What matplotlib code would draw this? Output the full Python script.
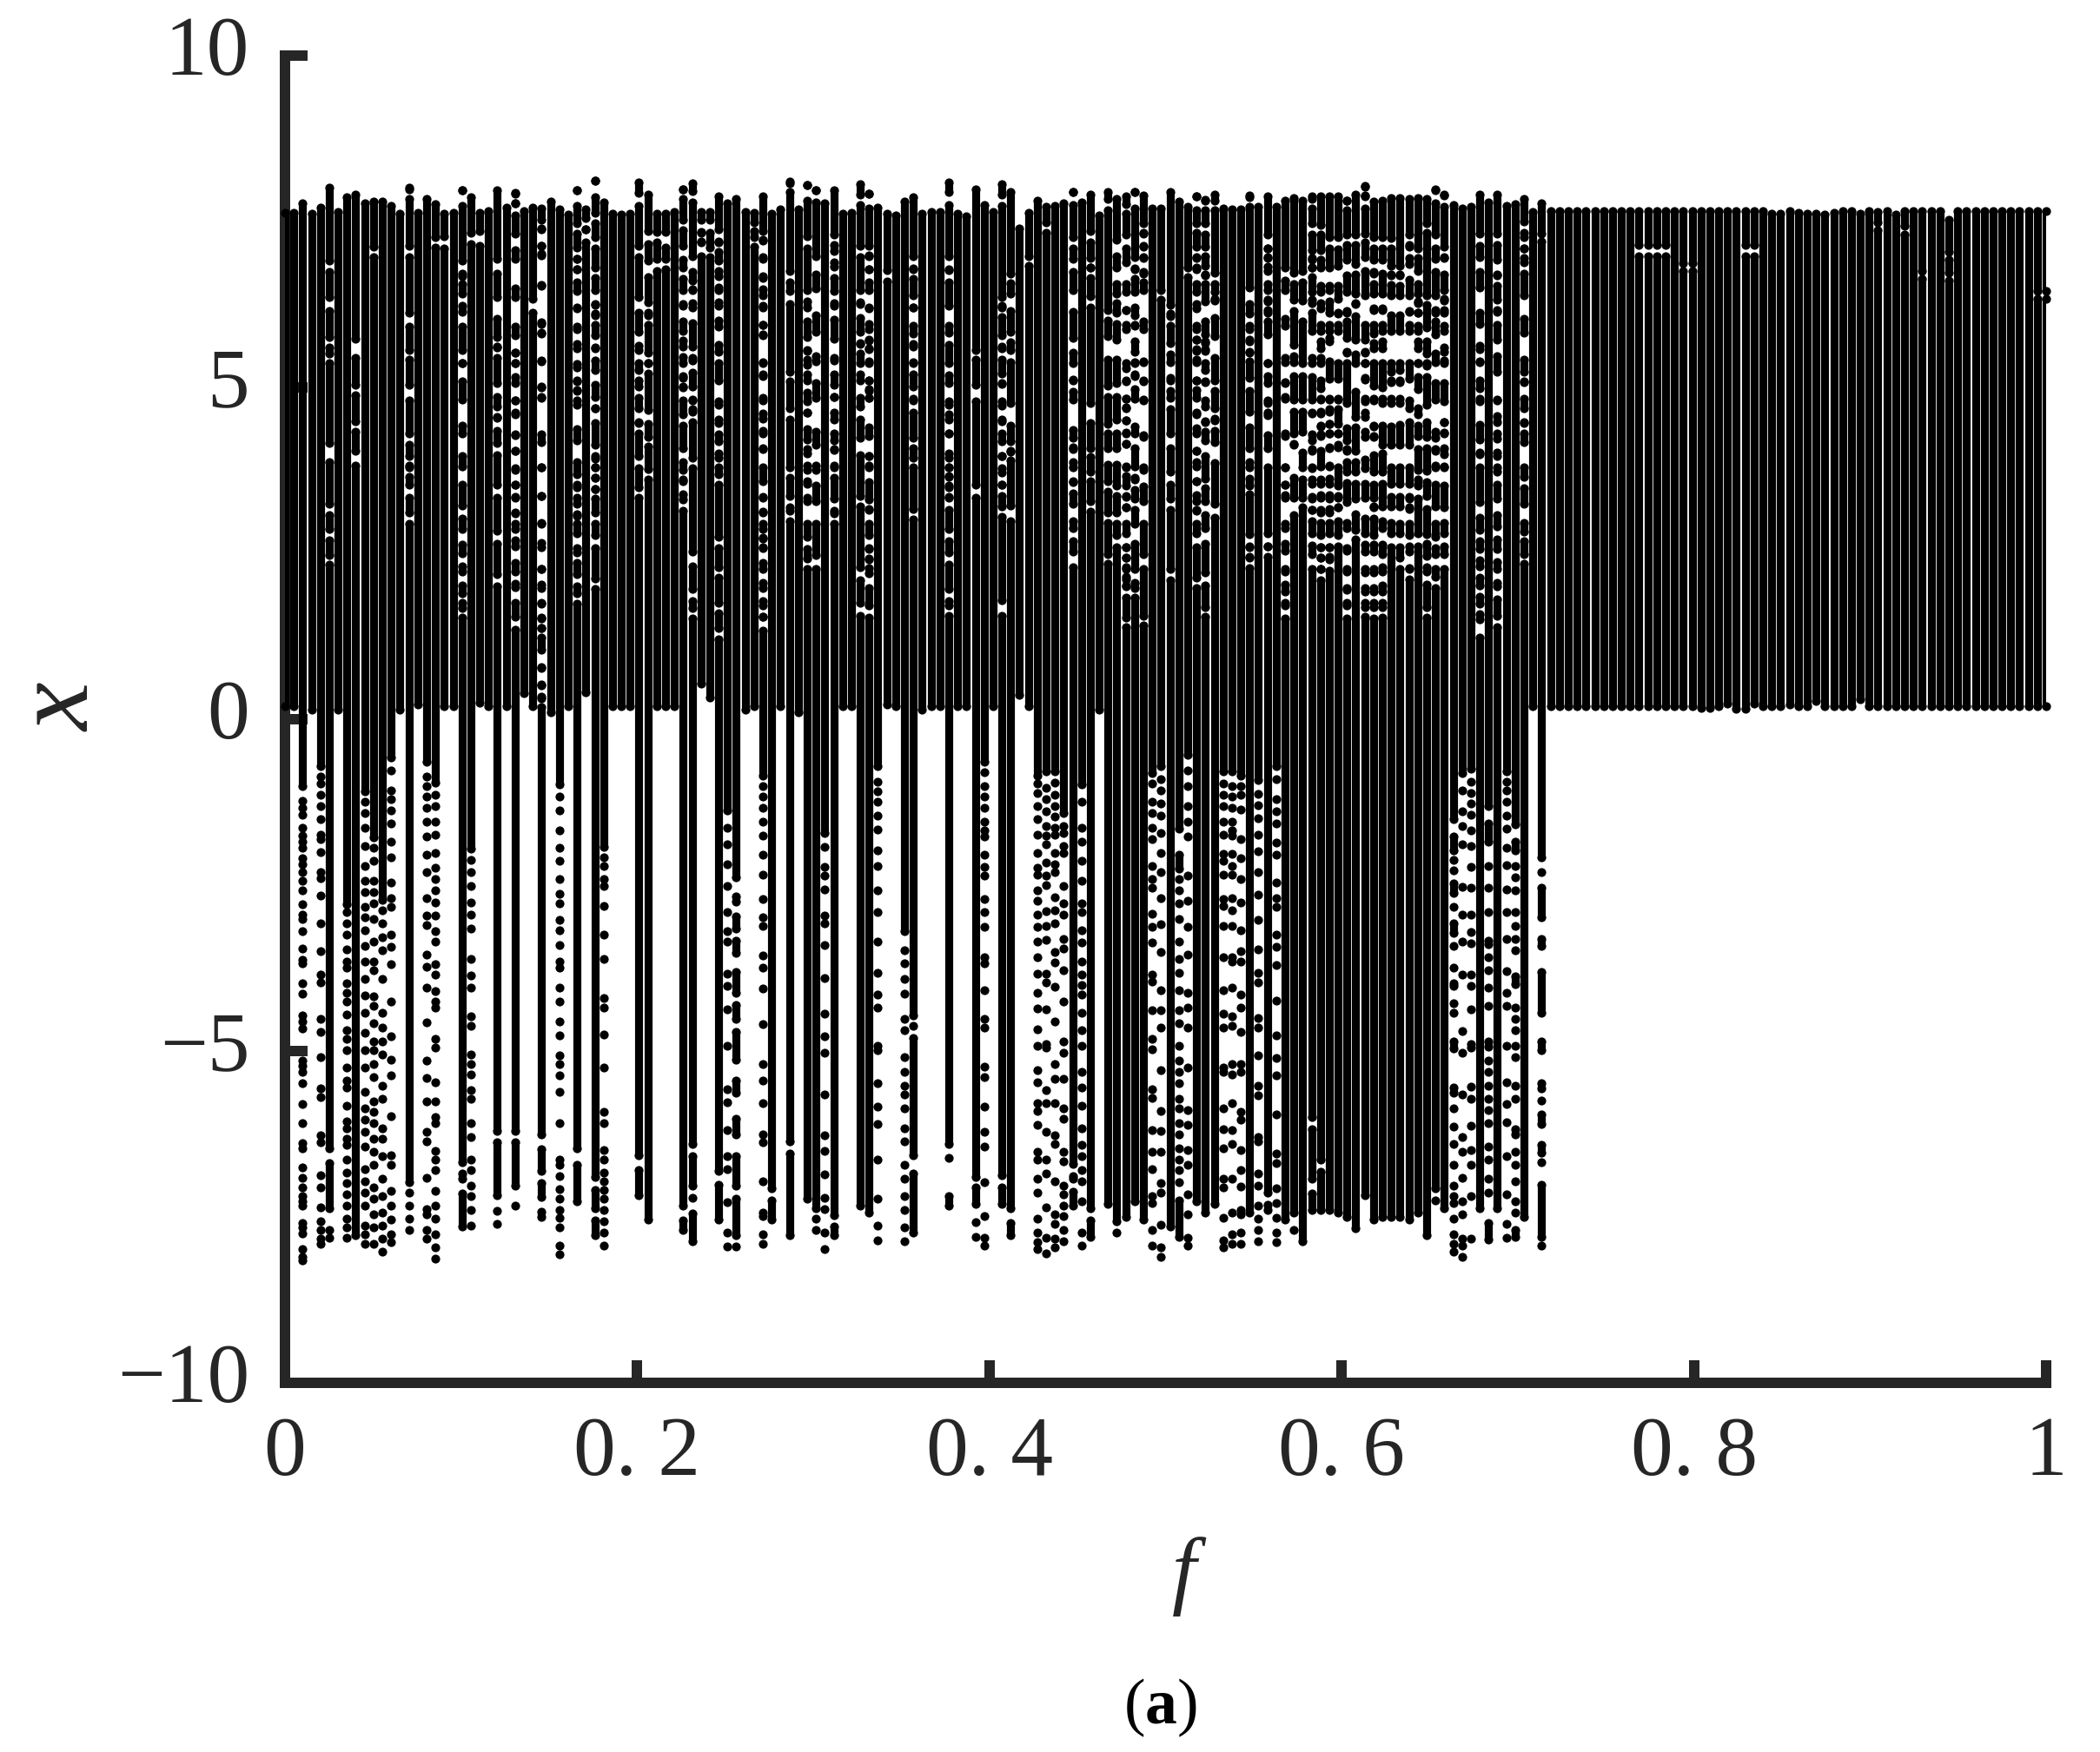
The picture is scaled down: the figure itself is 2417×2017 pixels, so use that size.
#!/usr/bin/env python3
# bifurcation diagram of x against f
import numpy as np
import matplotlib
matplotlib.use("Agg")
import matplotlib.pyplot as plt
from matplotlib.transforms import ScaledTranslation

# sweep of the forcing parameter, one column of points per value
f_grid = np.linspace(0, 1, 200)

# upper and lower end of the main band of each column
top_x = [7.63,7.63,7.78,7.62,7.71,8.01,7.65,7.87,7.90,7.78,7.80,7.80,7.73,7.62,8.01,7.63,7.84,7.76,7.62,7.63,
         7.97,7.87,7.63,7.66,7.97,7.71,7.92,7.66,7.71,7.69,7.80,7.68,7.60,7.97,7.68,8.11,7.79,7.62,7.60,7.62,
         8.09,7.90,7.62,7.62,7.65,7.99,8.07,7.65,7.65,7.88,7.77,7.84,7.65,7.63,7.88,7.62,7.68,8.08,7.68,8.05,
         7.97,7.77,7.97,7.62,7.63,8.06,7.92,7.71,7.62,7.59,7.80,7.87,7.62,7.65,7.65,8.09,7.62,7.58,7.99,7.75,
         7.65,8.06,7.94,7.40,7.63,7.81,7.72,7.73,7.78,7.95,7.79,7.91,7.59,7.95,7.84,7.88,7.94,7.89,7.69,7.69,
         7.94,7.80,7.72,7.88,7.83,7.91,7.69,7.68,7.68,7.86,7.72,7.88,7.72,7.81,7.85,7.81,7.88,7.88,7.88,7.88,
         7.82,7.90,8.04,7.80,7.82,7.85,7.85,7.84,7.85,7.84,7.99,7.91,7.75,7.69,7.72,7.91,7.79,7.91,7.74,7.76,
         7.84,7.64,7.78,7.66,7.66,7.66,7.66,7.66,7.66,7.66,7.66,7.66,7.66,7.66,7.66,7.66,7.66,7.66,7.66,7.66,
         7.66,7.66,7.66,7.66,7.66,7.66,7.66,7.66,7.62,7.62,7.66,7.63,7.62,7.62,7.60,7.63,7.66,7.66,7.62,7.66,
         7.64,7.66,7.60,7.66,7.66,7.66,7.66,7.66,7.53,7.66,7.66,7.66,7.66,7.66,7.66,7.66,7.66,7.66,7.66,7.66]
bottom_x = [.2,.2,.2,.14,.2,.2,.14,.2,.2,.2,.2,.2,.2,.14,.2,.22,.2,.2,.19,.2,
            .2,.2,.25,.2,.2,.2,.2,.39,.2,.2,.11,.2,.2,.2,.40,.2,.2,.2,.2,.2,
            .2,.2,.2,.2,.2,.2,.2,.54,.33,.2,.2,.2,.14,.19,.2,.2,.19,.2,.11,.2,
            .2,.2,.2,.2,.2,.2,.2,.2,.22,.19,.2,.2,.14,.2,.2,.2,.2,.2,.2,.2,
            .2,.2,.2,.36,.2,.2,.2,.2,.2,.2,.2,.2,.15,.2,.2,.2,.2,.2,.2,.2,
            .2,.2,.2,.2,.2,.2,.2,.2,.2,.2,.2,.2,.2,.2,.2,.2,.2,.2,.2,.2,
            .2,.2,.2,.2,.2,.2,.2,.2,.2,.2,.2,.2,.2,.2,.2,.2,.2,.2,.2,.2,
            .2,.2,.2,.2,.2,.2,.2,.2,.2,.2,.2,.2,.2,.2,.2,.2,.2,.2,.2,.2,
            .17,.17,.2,.24,.16,.16,.24,.2,.2,.2,.22,.2,.2,.27,.2,.2,.2,.2,.3,.2,
            .2,.2,.2,.2,.2,.2,.2,.2,.2,.2,.2,.2,.2,.2,.2,.2,.2,.2,.2,.2]

# white bands inside the upper part: column -> (x above the band, x below it)
upper_gaps = {
    5: [(6.91,6.74),(6.36,6.15),(5.76,5.60),(5.51,5.36),(4.16,3.87),(3.25,3.07),(2.86,2.69),(2.48,2.33)],
    8: [(5.73,5.44),(5.04,4.88),(4.49,4.33),(4.05,3.82)],
    10: [(7.12,6.96)],
    14: [(7.99,7.84),(7.13,6.96),(6.12,5.91),(5.56,5.42),(5.04,4.81),(4.30,4.13),(3.97,3.82),(3.80,3.65),(3.53,3.34),(3.11,2.94)],
    17: [(7.27,7.11)],
    18: [(7.28,7.09)],
    20: [(7.97,7.73),(6.91,6.68),(6.72,6.56),(6.42,6.23),(6.14,5.91),(5.56,5.36),(5.37,5.09),(4.82,4.43),(4.30,3.96),(3.81,3.53),(3.22,3.02),(2.86,2.63),(2.50,2.30),(2.23,2.02),(1.90,1.75),(1.68,1.53)],
    21: [(7.33,7.16)],
    22: [(7.36,7.13)],
    24: [(6.94,6.71),(6.36,6.04),(5.76,5.60),(5.62,5.44),(5.07,4.85),(4.71,4.54),(4.55,4.34),(4.16,3.98),(3.53,3.34),(2.84,2.65),(2.18,2.00)],
    26: [(7.93,7.77),(7.77,7.59),(7.32,7.07),(6.94,6.49),(6.36,5.91),(5.79,5.52),(5.52,5.36),(5.36,5.16),(5.07,4.81),(4.81,4.62),(4.60,4.28),(4.29,4.04),(4.05,3.78),(3.76,3.54),(3.54,3.34),(3.35,3.10),(3.11,2.95),(2.86,2.69),(2.60,2.35),(2.23,2.04),(1.99,1.76),(1.54,1.35)],
    28: [(6.34,6.13)],
    29: [(7.52,7.38),(7.39,7.13),(7.13,6.99),(7.01,6.55),(6.53,5.96),(5.98,5.81),(5.82,5.39),(5.40,5.00),(5.01,4.84),(4.85,4.29),(4.18,3.79),(3.80,3.37),(3.36,2.95),(2.96,2.66),(2.59,2.26),(2.27,2.03),(1.98,1.74),(1.75,1.52),(1.53,1.37),(1.38,1.23),(1.05,.77),(.78,.51),(.52,.32),(.34,.18)],
    33: [(7.97,7.73),(7.47,7.32),(7.11,6.94),(6.94,6.78),(6.78,6.59),(6.45,6.19),(6.20,5.91),(5.88,5.66),(5.59,5.35),(5.30,5.09),(5.10,4.95),(4.96,4.81),(4.74,4.37),(4.20,3.87),(3.69,3.53),(3.50,3.34),(3.25,3.06),(3.09,2.94),(2.80,2.58),(2.51,2.35),(2.18,2.00),(1.90,1.74)],
    34: [(7.55,7.38),(7.38,7.18)],
    35: [(8.11,7.87),(7.63,7.48),(7.27,7.10),(6.80,6.65),(6.47,6.24),(6.25,6.11),(6.09,5.94),(5.79,5.60),(5.59,5.40),(5.26,5.04),(4.85,4.68),(4.68,4.46),(4.14,3.93),(3.96,3.80),(3.80,3.64),(3.64,3.47),(3.47,3.32),(3.11,2.95),(2.78,2.58),(2.12,1.96)],
    40: [(7.93,7.73),(7.13,6.96),(6.36,6.12),(5.84,5.63),(5.56,5.36),(5.26,5.11),(5.01,4.84),(4.68,4.48),(4.46,4.31),(3.97,3.78),(3.50,3.34)],
    41: [(7.36,7.16),(6.91,6.66),(6.28,6.12),(6.09,5.94),(5.52,5.36),(5.36,5.21),(4.66,4.45),(4.25,4.11),(3.77,3.61)],
    42: [(7.34,7.18),(6.94,6.76)],
    43: [(7.34,7.11),(6.94,6.78)],
    45: [(7.99,7.84),(7.52,7.37),(7.13,6.93),(6.80,6.63),(6.47,6.26),(6.23,6.00),(5.85,5.71),(5.62,5.46),(5.36,5.17),(5.15,5.00),(5.01,4.81),(4.60,4.43),(4.08,3.87),(3.75,3.61),(3.59,3.39),(3.31,3.14)],
    46: [(7.96,7.79),(6.97,6.74),(6.61,6.48),(6.47,6.27),(6.20,5.97),(5.62,5.44),(5.40,5.22),(5.01,4.81),(4.82,4.67),(4.63,4.48),(3.94,3.78),(2.53,2.31),(1.96,1.78),(1.68,1.52)],
    47: [(7.52,7.33),(7.34,7.20),(7.19,6.98)],
    48: [(7.52,7.33),(7.11,6.96)],
    49: [(7.38,7.20),(7.19,7.04),(6.91,6.76),(6.67,6.50),(6.47,6.28),(6.23,6.01),(5.92,5.64),(5.54,5.36),(5.10,4.79),(4.74,4.52),(4.46,4.29),(4.19,4.00),(3.94,3.79),(3.69,3.53),(2.75,2.58),(2.29,2.14),(1.76,1.60),(1.38,1.20)],
    53: [(7.49,7.35),(7.26,7.12)],
    54: [(7.36,7.21),(7.22,6.96),(6.94,6.65),(6.67,6.48),(6.39,6.20),(6.23,5.94),(5.94,5.79),(5.80,5.38),(5.37,5.20),(5.17,4.81),(4.84,4.61),(4.53,4.34),(4.30,4.07),(4.08,3.79),(3.58,3.34),(3.35,3.12),(3.13,2.94),(2.86,2.72),(2.73,2.58),(2.59,2.36),(2.26,2.06),(1.98,1.78),(1.71,1.55),(1.54,1.34)],
    57: [(8.10,7.95),(6.75,6.59),(6.45,6.26),(5.23,5.09),(4.68,4.52),(3.80,3.64),(3.36,3.20),(3.14,2.99)],
    59: [(8.05,7.82),(7.28,7.10),(6.47,6.30),(6.20,6.00),(5.76,5.55),(5.56,5.42),(5.34,5.20),(5.10,4.92),(4.79,4.62),(4.62,4.37),(4.21,4.07),(4.01,3.82),(3.75,3.58),(3.55,3.34),(3.28,2.94),(2.75,2.57),(2.42,2.26)],
    60: [(7.97,7.79),(6.97,6.70),(6.49,6.08),(5.84,5.47),(5.39,5.07),(4.84,4.33),(4.14,3.82),(3.76,3.52),(3.28,2.95),(2.48,2.26)],
    62: [(7.30,7.15),(7.05,6.88),(6.82,6.65),(6.45,6.27),(6.23,6.02),(5.73,5.44),(5.41,5.20),(5.04,4.85),(4.86,4.62),(4.52,4.31),(4.20,4.06),(4.07,3.82),(3.79,3.64),(3.33,3.14),(3.10,2.94)],
    65: [(7.91,7.75),(7.13,6.96),(6.47,6.28),(6.25,6.05),(5.84,5.65),(5.67,5.51),(5.37,5.20),(5.10,4.84),(4.71,4.51),(4.24,3.98),(3.36,3.21),(2.29,2.09),(1.75,1.56)],
    66: [(7.92,7.70),(7.13,6.99),(6.97,6.78),(6.78,6.59),(6.47,6.19),(6.20,5.95),(5.88,5.71),(5.72,5.58),(5.59,5.39),(5.37,5.11),(5.10,4.95),(4.98,4.84),(4.84,4.40),(4.27,3.96),(3.97,3.82),(3.80,3.57),(3.31,3.16),(3.17,2.95),(2.78,2.58),(2.56,2.41),(2.42,2.28),(2.20,1.98),(1.71,1.53)],
    68: [(6.77,6.60)],
    71: [(6.97,6.79),(6.78,6.63),(6.39,6.20),(6.21,5.93),(5.81,5.65),(5.62,5.38),(5.36,5.20),(5.01,4.83),(4.80,4.62),(4.24,4.08),(3.94,3.79),(3.17,3.01)],
    75: [(7.94,7.75),(6.97,6.77),(6.78,6.59),(6.23,5.93),(5.83,5.64),(5.37,5.18),(5.07,4.79),(4.74,4.59),(4.51,4.31),(4.30,4.01),(3.94,3.79),(3.80,3.65),(3.66,3.52),(3.50,3.34),(3.35,3.16),(2.86,2.68),(2.51,2.33),(1.96,1.78),(1.71,1.56)],
    78: [(5.56,5.42),(5.04,4.79),(3.54,3.34)],
    81: [(7.91,7.73),(6.36,6.20),(6.23,6.06),(5.79,5.62),(5.59,5.42),(5.21,5.05),(5.07,4.79),(4.73,4.52),(4.49,4.31),(4.19,3.96),(3.97,3.78),(3.72,3.54),(3.53,3.36),(3.21,3.05),(1.79,1.56)],
    82: [(6.72,6.57),(6.42,6.15),(5.84,5.68),(5.56,5.38),(4.77,4.43),(4.19,4.03),(4.05,3.90),(3.22,2.99)],
    84: [(6.97,6.83)],
    86: [(7.49,7.33)],
    89: [(7.95,7.75),(7.27,7.10),(6.94,6.74),(6.47,6.14),(5.75,5.53),(5.36,5.11),(5.12,4.94),(4.82,4.36),(4.24,4.10),(4.07,3.87),(3.79,3.57),(3.58,3.40),(3.24,2.99),(2.88,2.68),(2.52,2.29)],
    91: [(7.35,7.19),(6.95,6.80),(6.81,6.65),(6.37,6.20),(4.76,4.46),(4.09,3.95),(3.73,3.58),(3.29,3.13)],
    93: [(7.84,7.67),(6.16,6.01),(5.77,5.42),(5.02,4.85),(4.45,4.31),(4.09,3.84),(3.58,3.43),(3.11,2.96),(2.49,2.34)],
    94: [(7.22,6.98),(6.81,6.56),(6.42,6.27),(6.13,5.96),(5.72,5.42),(5.07,4.85),(4.51,4.31),(4.09,3.83),(3.52,3.36),(3.11,2.95),(2.77,2.59)],
    95: [(7.76,7.62),(7.30,7.10),(6.88,6.56),(6.44,6.17),(6.16,5.94),(5.88,5.37),(5.29,5.10),(5.09,4.83),(4.83,4.69),(4.70,4.50),(4.50,4.32),(4.30,4.15),(4.15,3.79),(3.81,3.66),(3.52,3.35),(3.36,3.20),(3.19,2.95),(2.80,2.59),(2.59,2.43),(2.44,2.29),(2.26,2.11),(2.15,2.01),(2.00,1.83),(1.53,1.39)],
    96: [(7.94,7.69),(6.96,6.79),(6.78,6.63),(6.44,6.20),(6.08,5.94),(5.93,5.70),(5.54,5.37),(5.38,5.17),(5.20,4.98),(4.83,4.41),(4.30,4.08),(3.81,3.61),(3.64,3.46),(3.32,3.15),(2.95,2.65),(2.26,2.06),(1.97,1.83)],
    97: [(7.48,7.33),(7.32,7.13),(7.12,6.95),(6.96,6.72),(6.74,6.58),(6.47,6.00),(5.88,5.39),(5.38,5.11),(5.09,4.80),(4.82,4.28),(4.26,3.79),(3.76,3.51),(3.28,2.94),(2.49,2.27),(1.56,1.41)],
    99: [(6.47,6.32)],
    100: [(6.24,6.07),(6.11,5.93),(5.67,5.50),(5.38,5.15),(5.10,4.95),(4.84,4.67),(4.30,4.08),(3.73,3.54),(3.32,3.15),(2.26,2.09)],
    102: [(6.81,6.66)],
    103: [(7.88,7.67),(7.48,7.33),(7.12,6.95),(6.96,6.81),(6.78,6.56),(6.44,6.25),(6.19,5.93),(5.88,5.72),(5.72,5.55),(5.58,5.42),(5.38,5.11),(5.10,4.96),(4.84,4.62),(4.60,4.39),(4.30,4.05),(4.04,3.87),(3.81,3.58),(3.58,3.38),(3.29,3.15),(3.14,2.94),(2.80,2.59),(2.13,1.98)],
    104: [(7.81,7.67),(7.48,7.31),(7.12,6.97),(6.83,6.69),(6.70,6.56),(6.29,5.99),(5.80,5.67),(5.69,5.55),(5.57,5.37),(5.26,5.08),(5.09,4.81),(4.71,4.49),(4.48,4.33),(4.20,3.96),(3.63,3.48),(3.28,3.08),(2.88,2.65),(2.21,2.01),(1.69,1.54)],
    105: [(7.81,7.67),(6.73,6.56),(6.44,6.31),(6.33,6.05),(5.77,5.45),(5.10,4.95),(4.69,4.50),(4.53,4.34),(4.17,3.86),(3.24,3.04)],
    109: [(7.89,7.72),(6.50,6.26),(6.11,5.93),(5.88,5.69),(5.72,5.52),(5.54,5.39),(5.14,4.95),(4.64,4.40),(4.09,3.88),(3.79,3.62),(3.52,3.39),(2.79,2.59),(2.60,2.45),(2.44,2.28)],
    111: [(7.30,7.10),(7.09,6.95),(6.96,6.82),(6.75,6.56),(6.46,6.30),(6.32,6.13),(6.16,5.99),(5.80,5.37),(5.37,5.17),(5.07,4.81),(4.77,4.62),(4.58,4.28),(4.09,3.79),(2.80,2.60),(2.60,2.45)],
    113: [(6.81,6.61),(6.47,6.04),(5.93,5.45),(5.38,5.08),(5.07,4.85),(4.83,4.31),(4.27,3.79),(3.79,3.53),(3.53,3.38),(3.34,2.94),(2.88,2.65),(2.54,2.27),(2.23,2.03),(1.92,1.76),(1.71,1.52)],
    114: [(6.73,6.56),(6.32,6.15),(5.64,5.47),(5.38,5.17),(4.82,4.64),(4.30,4.15),(4.14,3.64),(3.34,3.07)],
    115: [(6.75,6.58),(6.31,6.00),(5.36,5.17),(4.82,4.64),(4.33,4.02),(3.79,3.61),(3.34,3.20)],
    116: [(7.84,7.69),(7.48,7.31),(7.07,6.92),(6.95,6.81),(6.81,6.66),(6.44,6.27),(6.32,6.13),(5.85,5.45),(5.36,5.16),(4.82,4.62),(4.61,4.29),(4.20,4.05),(4.07,3.78),(3.79,3.61),(3.55,3.35),(3.33,3.16),(3.16,2.99),(2.80,2.62),(2.49,2.27)],
    117: [(7.45,7.31),(7.07,6.92),(6.81,6.53),(6.44,6.27),(6.19,5.94),(5.85,5.69),(5.59,5.45),(5.36,5.11),(4.99,4.83),(4.82,4.64),(4.61,4.41),(4.43,4.27),(4.29,4.05),(3.81,3.61),(3.55,3.38),(3.34,3.16),(3.11,2.96),(2.77,2.59),(2.59,2.43),(2.44,2.27),(2.26,2.09)],
    118: [(7.27,7.10),(6.81,6.53),(6.47,6.29),(6.13,5.94),(5.85,5.70),(5.75,5.39),(5.13,4.83),(4.82,4.67),(4.64,4.45),(4.45,4.31),(4.30,4.10),(4.09,3.82),(3.81,3.62),(3.55,3.38),(3.32,3.17),(3.11,2.96),(2.80,2.59),(2.59,2.45),(2.41,2.24)],
    119: [(7.27,7.08),(6.83,6.53),(6.34,6.13),(6.11,5.94),(5.85,5.37),(5.13,4.83),(4.82,4.67),(4.45,4.31),(4.30,4.10),(4.14,3.79),(3.52,3.34),(3.37,3.20),(3.19,2.99),(2.77,2.60)],
    120: [(7.81,7.67),(7.30,7.15),(6.93,6.69),(6.44,6.13),(6.15,5.99),(5.75,5.53),(5.54,5.37),(4.76,4.39),(4.20,4.05),(4.07,3.87),(3.73,3.56),(3.27,2.96),(2.88,2.58),(2.54,2.27),(2.23,1.98),(1.95,1.75),(1.71,1.52)],
    121: [(7.30,7.15),(6.86,6.70),(6.42,6.27),(6.26,6.07),(5.72,5.50),(5.36,4.94),(4.56,4.40),(4.04,3.87),(3.73,3.55),(3.32,3.09),(2.85,2.71)],
    122: [(8.02,7.88),(7.89,7.69),(7.32,7.18),(6.96,6.76),(6.39,5.94),(5.72,5.52),(5.54,5.37),(5.36,5.14),(5.12,4.83),(4.79,4.62),(4.56,4.33),(4.26,3.92),(3.78,3.55),(3.34,3.02),(2.80,2.63),(2.53,2.27),(2.21,1.98),(1.93,1.75),(1.69,1.54)],
    123: [(7.27,7.10),(6.93,6.71),(6.74,6.56),(6.42,6.17),(6.19,5.94),(5.81,5.67),(5.59,5.37),(5.03,4.80),(4.83,4.41),(4.43,4.26),(4.27,3.98),(3.73,3.53),(3.34,3.20),(3.21,3.02),(2.77,2.63),(2.52,2.27),(2.21,1.98),(1.92,1.75),(1.69,1.52)],
    124: [(7.27,7.10),(6.93,6.72),(6.42,6.17),(6.19,5.94),(5.85,5.69),(5.59,5.37),(5.00,4.83),(4.76,4.43),(4.14,4.00),(3.73,3.55),(3.21,2.99),(2.88,2.63),(2.49,2.29),(2.23,2.01),(1.92,1.76),(1.69,1.53)],
    125: [(7.25,7.10),(6.83,6.69),(6.70,6.55),(6.39,6.09),(5.85,5.37),(5.23,5.08),(5.10,4.83),(4.76,4.41),(4.14,3.79),(3.55,3.35),(3.21,2.96),(2.80,2.59)],
    126: [(6.83,6.69),(6.70,6.53),(6.39,6.09),(5.85,5.37),(5.26,5.08),(5.10,4.83),(4.76,4.44),(4.14,3.79),(3.55,3.35),(3.21,2.95),(2.80,2.59),(2.44,2.27)],
    127: [(7.30,7.15),(7.12,6.95),(6.86,6.62),(6.39,6.14),(6.15,5.94),(5.85,5.37),(5.13,4.80),(4.69,4.48),(4.14,3.79),(3.55,3.35),(3.32,3.17),(3.19,2.95),(2.77,2.60),(2.52,2.27),(2.28,2.11)],
    128: [(7.09,6.95),(6.75,6.56),(6.42,6.27),(6.29,6.12),(6.13,5.93),(5.85,5.69),(5.59,5.37),(5.37,5.16),(4.97,4.69),(4.60,4.43),(4.27,4.07),(3.76,3.61),(3.52,3.33),(2.80,2.60)],
    129: [(7.48,7.33),(6.39,6.24),(5.90,5.70),(5.51,5.37),(5.33,5.16),(4.74,4.48),(4.25,4.08),(3.74,3.57),(3.37,3.17),(2.79,2.64),(2.46,2.29),(2.23,2.03),(1.69,1.53)],
    130: [(7.97,7.77),(7.30,7.10),(6.94,6.74),(6.39,6.13),(6.16,6.00),(5.80,5.51),(5.38,5.07),(4.82,4.33),(4.24,4.05),(4.07,3.82),(3.79,3.53),(3.21,2.95),(2.75,2.58),(2.49,2.27),(2.15,1.98)],
    131: [(7.89,7.72),(7.12,6.95),(6.96,6.70),(6.47,6.31),(6.34,6.17),(6.12,5.93),(5.85,5.60),(5.54,5.37),(5.40,5.07),(4.79,4.48),(4.48,4.32),(4.30,4.08),(3.99,3.81),(3.79,3.52),(3.20,2.96),(2.80,2.60),(2.49,2.27)],
    135: [(7.32,7.13),(6.96,6.74),(6.50,6.12),(5.95,5.63),(5.57,5.39),(5.38,5.11),(4.99,4.83),(4.79,4.44),(4.22,4.02),(3.99,3.79),(3.27,3.04),(2.85,2.68),(2.57,2.40),(2.31,2.14),(2.02,1.85),(1.74,1.59),(1.51,1.23)],
    137: [(7.32,7.15),(6.93,6.69),(6.70,6.53),(6.32,6.14),(6.16,5.94),(5.72,5.47),(5.23,4.81),(4.82,4.57),(4.48,4.23),(4.30,4.02),(3.96,3.79),(3.73,3.53),(3.32,3.07),(2.90,2.71),(2.57,2.37),(2.26,2.06),(2.00,1.80),(1.56,1.39)],
    140: [(7.50,7.33),(7.27,7.10),(7.09,6.95),(6.88,6.71),(6.39,6.04),(5.82,5.42),(5.23,5.08),(5.09,4.83),(4.69,4.46),(4.48,4.31),(4.17,3.79),(3.65,3.48),(3.24,2.96),(2.83,2.68),(2.49,2.34)],
    142: [(7.32,7.20)],
    153: [(7.15,6.97)], 154: [(7.15,6.97)], 155: [(7.15,6.97)], 156: [(7.15,6.97)],
    158: [(6.87,6.75)], 159: [(6.87,6.75)], 165: [(7.15,6.97)], 166: [(7.15,6.97)],
    180: [(7.49,7.37)], 183: [(7.43,7.31)], 185: [(6.75,6.63)], 188: [(7.04,6.92),(6.73,6.61)],
    198: [(6.45,6.33)], 199: [(6.45,6.33)],
}

# how far below zero each column stays solid
lower_to = {
    2:-1.01, 4:-.71, 5:-6.46, 7:-2.79, 8:-7.77, 9:-1.08, 10:-1.78, 11:-2.72, 12:-.58, 14:-6.97, 16:-.64, 17:-.95,
    20:-6.67, 21:-1.95, 24:-6.20, 26:-6.20, 29:-6.26, 31:-.98, 33:-6.46, 35:-6.90, 36:-1.92, 40:-6.57, 41:-7.54,
    45:-7.33, 46:-6.40, 49:-6.80, 50:-1.38, 51:-2.38, 54:-.85, 55:-7.07, 57:-6.36, 59:-7.23, 60:-7.37, 61:-1.71,
    62:-7.47, 65:-7.33, 66:-7.43, 67:-.71, 70:-3.19, 71:-4.46, 75:-6.40, 78:-6.90, 79:-.64, 81:-6.87, 82:-7.37,
    85:-.85, 86:-.78, 87:-.78, 88:-1.41, 89:-6.70, 90:-.98, 91:-7.37, 93:-7.30, 94:-7.57, 95:-7.50, 96:-7.27,
    97:-7.54, 98:-.81, 99:-.71, 100:-7.64, 101:-1.65, 102:-.54, 103:-7.27, 104:-7.43, 105:-7.30, 106:-.78, 107:-.78,
    108:-.85, 109:-7.43, 110:-.91, 111:-7.13, 112:-.71, 113:-7.54, 114:-7.43, 115:-7.87, 116:-6.00, 117:-6.63,
    118:-7.40, 119:-7.43, 120:-7.50, 121:-7.67, 122:-7.17, 123:-7.54, 124:-7.50, 125:-7.50, 126:-7.50, 127:-7.54,
    128:-7.43, 129:-7.77, 130:-7.07, 131:-7.37, 132:-1.51, 133:-.81, 134:-.74, 135:-7.37, 136:-1.31, 137:-7.37,
    138:-.78, 139:-1.58, 140:-7.50, 142:-2.08,
}

# further solid stretches lower down: column -> (upper x, lower x)
lower_runs = {
    5: [(-6.69,-7.37)],
    20: [(-6.85,-6.93),(-7.15,-7.64)],
    24: [(-6.38,-7.17)],
    26: [(-6.38,-7.03)],
    29: [(-6.48,-6.80),(-6.99,-7.20),(-7.42,-7.50)],
    33: [(-6.72,-7.27)],
    35: [(-7.09,-7.37),(-7.55,-7.77)],
    40: [(-6.79,-7.17)],
    45: [(-7.55,-7.70)],
    46: [(-6.58,-7.03),(-7.45,-7.87)],
    49: [(-7.02,-7.54)],
    51: [(-2.67,-2.75),(-2.97,-3.15),(-3.34,-3.52),(-3.81,-4.12),(-4.31,-4.52),(-4.71,-5.13),(-5.45,-5.63),(-6.02,-6.26),(-6.58,-7.03),(-7.22,-7.77)],
    55: [(-7.25,-7.54)],
    57: [(-6.55,-7.77)],
    62: [(-7.65,-7.77)],
    71: [(-4.81,-6.57),(-6.85,-7.74)],
    75: [(-7.19,-7.33)],
    78: [(-7.05,-7.30)],
    81: [(-7.05,-7.30)],
    82: [(-7.59,-7.77)],
    89: [(-6.89,-6.93),(-7.12,-7.33)],
    91: [(-7.55,-7.80)],
    101: [(-2.04,-2.25),(-7.25,-7.80)],
    111: [(-7.32,-7.40)],
    116: [(-6.18,-6.93),(-7.15,-7.40)],
    117: [(-6.82,-7.40)],
    132: [(-1.77,-1.98),(-2.47,-2.62),(-3.07,-3.22),(-3.98,-4.02),(-4.85,-4.96),(-5.55,-5.63)],
    136: [(-1.57,-1.85),(-3.34,-3.39),(-4.85,-4.93),(-7.59,-7.84)],
    139: [(-1.84,-1.98),(-3.88,-3.99),(-6.18,-6.26),(-7.69,-7.80)],
    142: [(-2.54,-2.99),(-3.31,-3.42),(-3.81,-4.42),(-4.85,-4.99),(-5.48,-5.56),(-5.95,-6.10),(-6.42,-6.53),(-7.02,-7.80)],
}

# single points below the solid part
lower_dots = {
    2: [-1.23,-1.34,-1.44,-1.63,-1.76,-1.84,-1.94,-2.10,-2.19,-2.30,-2.44,-2.58,-2.79,-2.95,-3.01,-3.20,-3.45,-3.62,-3.68,-3.98,-4.14,-4.46,-4.55,-4.66,-5.15,-5.22,-5.31,-5.49,-5.80,-6.08,-6.39,-6.46,-6.76,-6.91,-7.06,-7.18,-7.26,-7.33,-7.59,-7.66,-7.75,-7.98,-8.10,-8.16],
    4: [-.87,-.97,-1.14,-1.31,-1.51,-1.74,-1.81,-2.00,-2.31,-2.39,-2.66,-3.07,-3.49,-3.85,-3.97,-4.52,-4.71,-5.09,-5.56,-5.69,-6.27,-6.38,-6.87,-7.05,-7.36,-7.56,-7.70,-7.83,-7.90],
    5: [-7.70,-7.81],
    7: [-2.91,-3.08,-3.25,-3.47,-3.65,-3.75,-3.98,-4.12,-4.25,-4.45,-4.69,-4.82,-4.99,-5.25,-5.45,-5.55,-5.82,-6.06,-6.16,-6.32,-6.42,-6.63,-6.83,-6.99,-7.16,-7.33,-7.53,-7.66,-7.81],
    9: [-1.24,-1.41,-1.64,-1.91,-2.21,-2.44,-2.61,-2.83,-2.98,-3.18,-3.41,-3.65,-3.92,-4.16,-4.42,-4.72,-4.99,-5.25,-5.62,-5.86,-6.04,-6.22,-6.44,-6.78,-6.96,-7.14,-7.33,-7.63,-7.76,-7.90],
    10: [-1.94,-2.14,-2.44,-2.61,-2.78,-3.01,-3.35,-3.65,-3.78,-4.18,-4.32,-4.58,-4.85,-4.99,-5.19,-5.39,-5.76,-5.92,-6.09,-6.32,-6.52,-6.72,-7.06,-7.23,-7.46,-7.66,-7.90],
    11: [-2.88,-3.08,-3.28,-3.48,-3.92,-4.42,-4.65,-4.85,-5.05,-5.52,-5.72,-6.16,-6.32,-6.59,-6.93,-7.19,-7.43,-7.63,-7.83,-8.03],
    12: [-.77,-1.07,-1.21,-1.37,-1.57,-1.84,-2.08,-2.46,-2.69,-2.83,-3.25,-3.43,-3.69,-4.25,-4.78,-5.13,-5.37,-5.98,-6.57,-6.72,-7.11,-7.33,-7.54,-7.76,-7.88],
    14: [-7.13,-7.33,-7.53,-7.70],
    16: [-.87,-1.01,-1.16,-1.34,-1.54,-1.77,-2.04,-2.31,-2.70,-2.96,-3.10,-3.55,-3.73,-4.05,-4.57,-5.15,-5.40,-5.76,-6.22,-6.36,-6.91,-7.38,-7.46,-7.70,-7.83],
    17: [-1.14,-1.31,-1.54,-1.74,-2.01,-2.24,-2.41,-2.58,-2.76,-2.96,-3.20,-3.35,-3.69,-3.85,-4.10,-4.25,-4.35,-4.82,-4.95,-5.47,-5.76,-5.99,-6.09,-6.51,-6.64,-6.79,-7.11,-7.33,-7.53,-7.76,-7.96,-8.13],
    21: [-2.12,-2.31,-2.51,-2.76,-2.95,-3.15,-3.61,-3.86,-4.05,-4.48,-4.62,-5.05,-5.19,-5.35,-5.59,-5.72,-6.09,-6.29,-6.63,-6.79,-7.03,-7.19,-7.39,-7.63],
    24: [-7.41,-7.60],
    26: [-7.33],
    31: [-1.16,-1.37,-1.67,-1.94,-2.14,-2.41,-2.63,-2.78,-3.03,-3.18,-3.40,-3.65,-3.75,-4.04,-4.25,-4.55,-4.77,-5.07,-5.19,-5.37,-5.61,-6.09,-6.63,-6.72,-6.88,-7.08,-7.23,-7.39,-7.51,-7.66,-7.93,-8.06],
    36: [-2.08,-2.21,-2.41,-2.51,-2.81,-3.25,-3.61,-4.20,-4.35,-4.75,-5.25,-5.92,-6.08,-6.49,-6.64,-6.83,-6.96,-7.09,-7.23,-7.39,-7.56,-7.73,-7.93],
    46: [-7.21],
    50: [-1.64,-1.88,-2.19,-2.51,-2.91,-3.20,-3.35,-3.84,-4.02,-4.37,-4.92,-5.57,-5.77,-6.19,-6.59,-6.78,-7.28,-7.73,-7.95],
    51: [-7.95],
    54: [-1.01,-1.17,-1.34,-1.54,-1.76,-2.04,-2.34,-2.71,-2.98,-3.11,-3.56,-3.75,-4.06,-4.59,-5.19,-5.45,-5.78,-6.26,-6.38,-6.96,-7.43,-7.49,-7.76,-7.90],
    60: [-7.53,-7.70],
    61: [-1.92,-2.22,-2.36,-2.56,-2.96,-3.08,-3.40,-3.90,-4.44,-4.78,-5.02,-5.65,-6.27,-6.51,-6.86,-7.21,-7.38,-7.73,-7.98],
    67: [-.94,-1.09,-1.25,-1.45,-1.66,-1.98,-2.21,-2.58,-2.91,-3.35,-3.82,-4.15,-4.34,-4.92,-4.99,-5.49,-5.84,-6.10,-6.63,-7.23,-7.63,-7.85],
    70: [-3.48,-3.68,-3.92,-4.13,-4.52,-4.69,-5.09,-5.32,-5.52,-5.65,-5.86,-6.16,-6.36,-6.72,-6.93,-7.19,-7.39,-7.66,-7.86],
    71: [-4.62],
    75: [-6.61],
    78: [-7.58,-7.80],
    79: [-.80,-1.01,-1.17,-1.34,-1.54,-1.67,-1.77,-2.04,-2.22,-2.36,-2.71,-2.90,-3.13,-3.58,-3.68,-4.08,-4.52,-4.65,-5.24,-5.39,-5.84,-6.22,-6.44,-6.98,-7.49,-7.81,-7.93],
    85: [-.97,-1.11,-1.31,-1.51,-1.74,-2.01,-2.24,-2.34,-2.58,-2.74,-2.95,-3.13,-3.35,-3.58,-3.83,-4.12,-4.36,-4.67,-4.92,-5.29,-5.47,-5.78,-5.90,-6.11,-6.52,-6.63,-6.93,-7.13,-7.53,-7.74,-7.88,-7.99],
    86: [-1.03,-1.21,-1.39,-1.61,-1.76,-1.88,-2.16,-2.36,-2.50,-2.89,-3.11,-3.33,-3.83,-3.96,-4.37,-4.89,-4.95,-5.59,-5.79,-6.22,-6.64,-6.84,-7.36,-7.81,-8.05],
    87: [-.95,-1.14,-1.31,-1.47,-1.64,-1.74,-2.01,-2.18,-2.31,-2.68,-2.88,-3.08,-3.51,-3.67,-4.03,-4.55,-5.19,-5.42,-5.79,-6.27,-6.40,-6.96,-7.46,-7.60,-7.83,-7.96],
    88: [-1.61,-1.71,-1.91,-2.01,-2.51,-2.78,-2.95,-3.31,-3.45,-3.78,-4.25,-4.85,-5.02,-5.42,-5.86,-6.02,-6.52,-6.66,-7.03,-7.16,-7.33,-7.49,-7.70,-7.86],
    90: [-1.24,-1.64,-1.84,-2.14,-2.44,-2.78,-2.91,-3.18,-3.36,-3.65,-3.85,-4.00,-4.15,-4.42,-4.69,-4.92,-5.31,-5.55,-5.82,-6.16,-6.42,-6.59,-6.79,-6.96,-7.26,-7.73,-7.93],
    94: [-7.74],
    98: [-.97,-1.24,-1.41,-1.64,-1.81,-2.21,-2.41,-2.54,-2.93,-3.13,-3.36,-3.85,-3.95,-4.38,-4.82,-4.97,-5.57,-5.71,-6.19,-6.52,-6.78,-7.19,-7.29,-7.70,-7.93],
    99: [-.90,-1.07,-1.27,-1.45,-1.72,-2.01,-2.31,-2.69,-3.09,-3.51,-4.08,-4.39,-4.65,-5.29,-5.90,-6.20,-6.52,-6.99,-7.13,-7.62,-7.96,-8.10],
    101: [-2.41,-2.58,-2.78,-3.01,-3.35,-3.61,-3.82,-4.08,-4.38,-4.58,-4.92,-5.15,-5.32,-5.49,-5.72,-5.86,-6.09,-6.26,-6.46,-6.63,-6.79,-6.98],
    102: [-.77,-1.01,-1.31,-1.54,-1.77,-2.36,-2.74,-3.13,-3.55,-4.12,-4.35,-4.65,-5.25,-5.89,-6.11,-6.49,-6.72,-7.16,-7.46,-7.81,-7.93],
    106: [-.97,-1.14,-1.31,-1.54,-1.74,-2.03,-2.14,-2.34,-2.71,-2.81,-3.11,-3.58,-4.08,-4.44,-4.65,-5.25,-5.32,-5.86,-6.18,-6.47,-6.93,-7.05,-7.51,-7.85,-7.96],
    107: [-1.01,-1.16,-1.34,-1.54,-1.67,-1.76,-2.03,-2.21,-2.34,-2.70,-2.88,-3.11,-3.58,-3.65,-4.05,-4.48,-4.62,-5.19,-5.35,-5.79,-6.19,-6.40,-6.93,-7.43,-7.76,-7.90],
    108: [-1.01,-1.14,-1.36,-1.81,-2.10,-2.41,-2.76,-3.18,-3.50,-3.65,-4.15,-4.34,-4.71,-5.20,-5.31,-5.91,-6.04,-6.49,-6.79,-7.04,-7.39,-7.46,-7.74,-7.90],
    110: [-1.12,-1.29,-1.49,-1.74,-1.99,-2.31,-2.64,-3.03,-3.47,-3.82,-3.96,-4.50,-4.65,-5.07,-5.52,-5.67,-6.29,-6.36,-6.84,-7.03,-7.33,-7.53,-7.70,-7.86],
    112: [-.90,-1.21,-1.39,-1.57,-1.86,-2.04,-2.46,-2.69,-2.83,-3.25,-3.43,-3.70,-4.24,-4.77,-5.11,-5.37,-5.96,-6.54,-6.69,-7.07,-7.29,-7.51,-7.74,-7.88],
    114: [-7.70],
    130: [-7.25],
    132: [-2.12,-2.28,-2.83,-3.41,-3.75,-4.28,-4.42,-5.86,-6.14,-6.40,-6.72,-7.03,-7.19,-7.29,-7.53,-7.76,-7.90,-8.03],
    133: [-1.07,-1.39,-1.61,-1.88,-2.52,-2.95,-3.35,-3.85,-4.70,-5.02,-5.65,-6.29,-6.52,-6.91,-7.26,-7.46,-7.83,-7.93,-8.10],
    134: [-.94,-1.11,-1.27,-1.44,-1.67,-1.91,-2.23,-2.54,-2.95,-3.21,-3.38,-3.85,-4.02,-4.37,-4.89,-4.95,-5.54,-5.72,-6.12,-6.49,-6.71,-7.19,-7.83],
    136: [-2.21,-2.54,-2.91,-3.58,-3.78,-4.05,-4.32,-5.15,-5.32,-5.52,-5.72,-5.89,-6.09,-6.44,-6.63,-6.93,-7.13],
    138: [-.94,-1.07,-1.24,-1.45,-1.65,-1.94,-2.20,-2.56,-2.91,-3.31,-3.80,-4.12,-4.32,-4.92,-5.47,-5.80,-6.07,-6.59,-7.16,-7.60,-7.81],
    139: [-2.21,-2.38,-2.58,-2.91,-3.11,-3.31,-3.48,-4.35,-4.52,-4.69,-4.92,-5.09,-5.52,-5.72,-6.52,-6.72,-6.96,-7.26,-7.43],
    142: [-2.31,-5.74,-6.68,-7.93],
}

x_ticks = [0, 0.2, 0.4, 0.6, 0.8, 1]
x_tick_labels = ["0", "0. 2", "0. 4", "0. 6", "0. 8", "1"]
y_ticks = [-10, -5, 0, 5, 10]
y_tick_labels = ["\u221210", "\u22125", "0", "5", "10"]

W, H = 2417, 2017
INK = "#262626"

plt.rcParams["font.family"] = ["Liberation Serif", "DejaVu Serif"]
plt.rcParams["mathtext.fontset"] = "custom"
plt.rcParams["mathtext.rm"] = "Liberation Serif"
plt.rcParams["mathtext.bf"] = "Liberation Serif:bold"

fig = plt.figure(figsize=(W / 100, H / 100), dpi=100)
ax = fig.add_axes([328 / W, (H - 1592) / H, (2355 - 328) / W, (1592 - 64) / H])

# turn every column into solid runs and loose points
seg_f, seg_hi, seg_lo, pt_f, pt_x = [], [], [], [], []


def add_run(f, hi, lo):
    seg_f.append(f)
    seg_hi.append(hi)
    seg_lo.append(lo)
    pt_f.extend([f, f])
    pt_x.extend([hi, lo])


for n, f in enumerate(f_grid):
    hi = top_x[n]
    for above, below in upper_gaps.get(n, []):
        add_run(f, hi, above)
        hi = below
    add_run(f, hi, lower_to.get(n, bottom_x[n]))
    for run_hi, run_lo in lower_runs.get(n, []):
        add_run(f, run_hi, run_lo)
    for x in lower_dots.get(n, []):
        pt_f.append(f)
        pt_x.append(x)

ax.vlines(seg_f, seg_lo, seg_hi, colors="k", linewidth=6.6, zorder=3)
ax.scatter(pt_f, pt_x, s=54, c="k", linewidths=0, zorder=3, clip_on=False)

ax.set_xlim(0, 1)
ax.set_ylim(-10, 10)
ax.spines["top"].set_visible(False)
ax.spines["right"].set_visible(False)
for side in ["left", "bottom"]:
    ax.spines[side].set_linewidth(8.64)
    ax.spines[side].set_color(INK)

ax.set_xticks(x_ticks)
ax.set_xticklabels(x_tick_labels)
ax.set_yticks(y_ticks)
ax.set_yticklabels(y_tick_labels)
ax.tick_params(axis="both", direction="in", length=18.7, width=8.64, color=INK,
               labelcolor=INK, labelsize=70)
ax.tick_params(axis="x", pad=28)
ax.tick_params(axis="y", pad=29.5)

# the y labels sit a little above their ticks
label_shift = ScaledTranslation(0, 12 / 100, fig.dpi_scale_trans)
for label in ax.get_yticklabels():
    label.set_transform(label.get_transform() + label_shift)

fig.text(1363 / W, 1 - 1815 / H, "f", fontsize=72, style="italic", color=INK, ha="center", va="center")
fig.text(73 / W, 1 - 814 / H, "x", fontsize=90, style="italic", color=INK, ha="center", va="center", rotation=90)
fig.text(1335 / W, 1 - 1966 / H, "(" + r"$\mathbf{a}$" + ")", fontsize=53, color="k", ha="center", va="center")

fig.savefig("out.png", dpi=100, facecolor="white")
